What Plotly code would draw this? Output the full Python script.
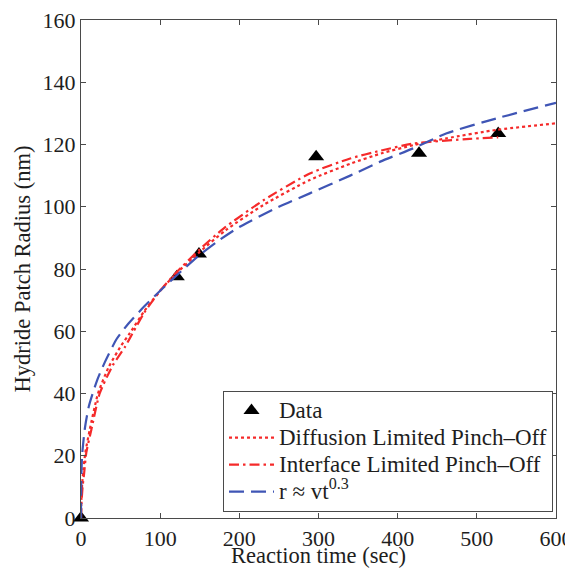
import plotly.graph_objects as go

# Measured data
data_t = [0, 121, 149, 297, 427, 527]
data_r = [0, 77.5, 84.8, 116.1, 117.2, 123.5]

# Diffusion limited pinch-off
diff_t = [0, 0.5, 1.5, 3, 5.5, 11, 21.5, 35, 51, 61.5, 80, 100, 120, 150, 183, 230, 289, 340, 380, 420, 462, 525, 600]
diff_r = [0, 6, 11, 15.5, 21, 28.3, 40, 48.5, 55.5, 59.3, 66.5, 73, 78.5, 85.5, 92.5, 100.5, 108.6, 113.8, 117.2, 119.8, 122, 124.7, 126.8]

# Interface limited pinch-off
intf_t = [0, 0.5, 2, 4, 6.7, 13, 23.6, 40, 55.6, 65, 80, 100, 120, 150, 180, 230, 289, 340, 378, 420, 491, 527]
intf_r = [0, 4.5, 10, 14.5, 21, 28.3, 40, 49, 55, 59.3, 66, 73, 78.8, 86.3, 93, 102, 110.7, 115.5, 118, 120.3, 121.8, 122.3]

# Power law r ~ v t^0.3
pow_t = [0, 0.3, 1, 2, 5, 10, 20, 30, 45, 60, 80, 100, 121, 150, 176, 200, 250, 289, 340, 378, 420, 462, 525, 600]
pow_r = [0, 12, 18, 22, 29, 36, 44, 50, 57.5, 62.5, 68, 73, 78, 84.5, 89.5, 93.5, 100, 104.3, 110, 114.5, 118.8, 123.6, 128.4, 133.4]

x_ticks = [0, 100, 200, 300, 400, 500, 600]
y_ticks = [0, 20, 40, 60, 80, 100, 120, 140, 160]

series_names = ["Data", "Diffusion Limited Pinch\u2013Off", "Interface Limited Pinch\u2013Off",
                "r \u2248 vt<sup>0.3</sup>"]
x_title = "Reaction time (sec)"
y_title = "Hydride Patch Radius (nm)"

RED = "#f52a2a"
BLUE = "#3f55b5"
FONT = "Liberation Serif, Times New Roman, serif"
TXT = "#1e1e1e"
AX = "#4a4a4a"


def leg(name):
    return '<span style="font-size:23px">' + name + '</span>'


fig = go.Figure()
fig.add_trace(go.Scatter(x=data_t, y=data_r, mode="markers", name=leg(series_names[0]),
                         marker=dict(symbol="triangle-up", size=14, color="black"),
                         cliponaxis=False))
fig.add_trace(go.Scatter(x=diff_t, y=diff_r, mode="lines", name=leg(series_names[1]),
                         line=dict(color=RED, width=2.2, dash="3px,3px", shape="spline", smoothing=0.6)))
fig.add_trace(go.Scatter(x=intf_t, y=intf_r, mode="lines", name=leg(series_names[2]),
                         line=dict(color=RED, width=2.2, dash="10px,4px,2.5px,4px", shape="spline", smoothing=0.6)))
fig.add_trace(go.Scatter(x=pow_t, y=pow_r, mode="lines", name=leg(series_names[3]),
                         line=dict(color=BLUE, width=2.2, dash="15px,7px", shape="spline", smoothing=0.6)))

axis_common = dict(showgrid=False, zeroline=False, showline=True, linecolor=AX, linewidth=1.2,
                   mirror="ticks", ticks="inside", ticklen=5, tickcolor=AX, automargin=False,
                   ticklabeloverflow="allow",
                   tickfont=dict(family=FONT, size=22, color=TXT))

fig.update_xaxes(range=[0, 600], tickvals=x_ticks, ticktext=[str(v) for v in x_ticks],
                 **axis_common)
fig.update_yaxes(range=[0, 160], tickvals=y_ticks, ticktext=[str(v) for v in y_ticks],
                 title=dict(text=y_title, font=dict(family=FONT, size=22.5, color=TXT), standoff=5),
                 **axis_common)

fig.add_annotation(text=x_title, xref="paper", yref="paper", x=0.5, y=0,
                   xanchor="center", yanchor="middle", yshift=-37, showarrow=False,
                   font=dict(family=FONT, size=22.5, color=TXT))

# The page body adds an 8px margin, so the figure is sized/offset to compensate.
fig.update_layout(
    width=565, height=560,
    margin=dict(l=73, r=17, t=12, b=50),
    paper_bgcolor="white", plot_bgcolor="white",
    font=dict(family=FONT, size=22, color=TXT),
    legend=dict(x=0.9937, y=0.012, xanchor="right", yanchor="bottom",
                bgcolor="white", bordercolor=AX, borderwidth=1,
                font=dict(family=FONT, size=18.5, color=TXT), itemwidth=45,
                tracegroupgap=0),
    showlegend=True,
)

fig.write_html("out.html")
